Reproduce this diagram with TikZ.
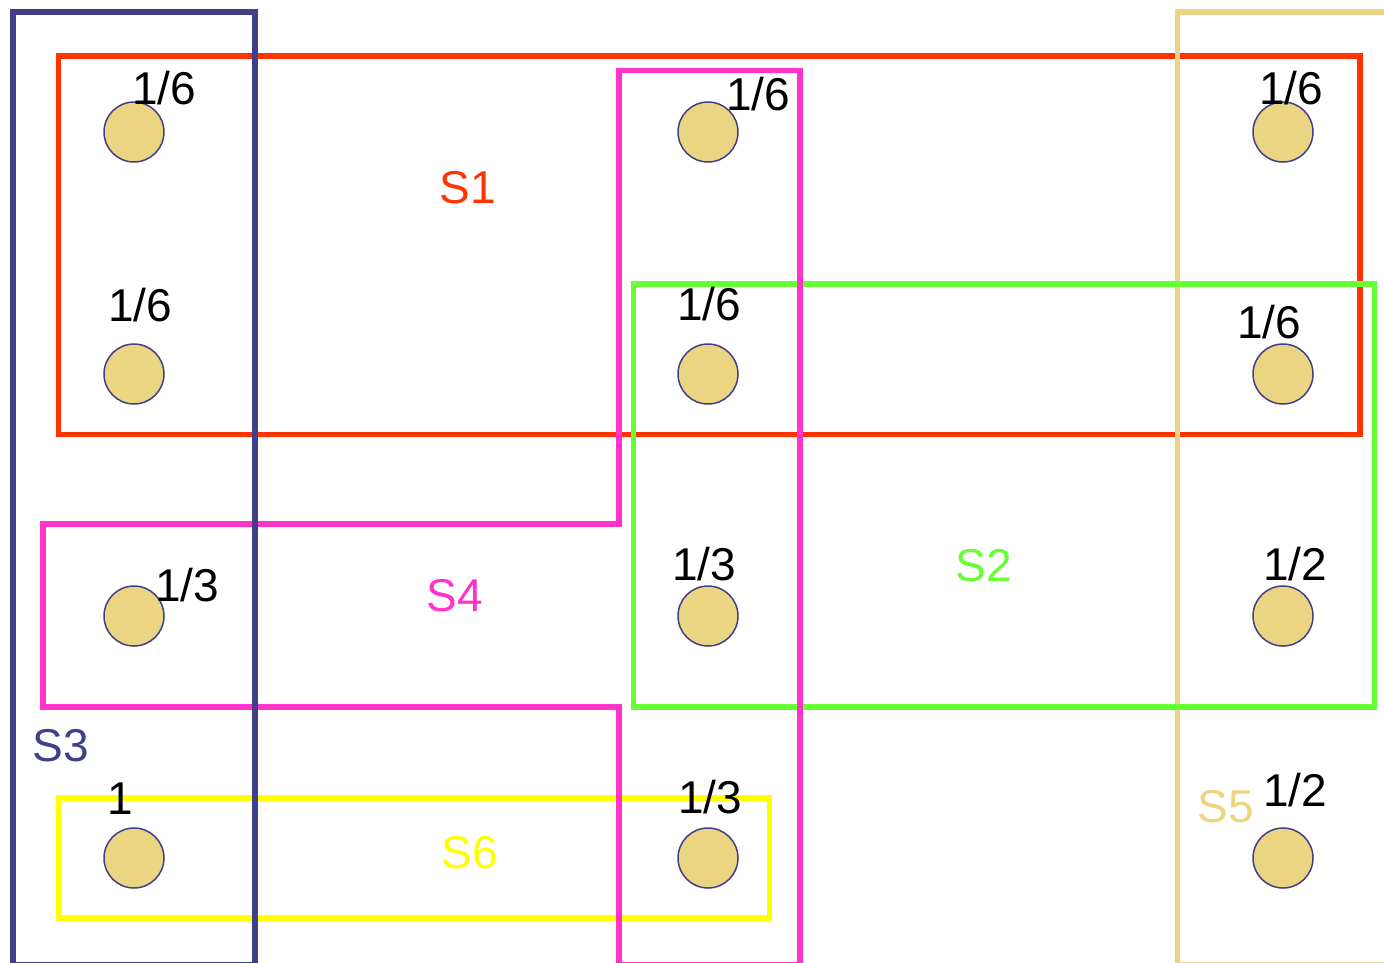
\documentclass[tikz,border=0pt]{standalone}
\usepackage{fontspec}
\setmainfont{Liberation Sans}

\definecolor{setred}{HTML}{FF3300}
\definecolor{setgreen}{HTML}{66FF33}
\definecolor{setpink}{HTML}{FF33CC}
\definecolor{setyellow}{HTML}{FFFF00}
\definecolor{setnavy}{HTML}{40408A}
\definecolor{setsand}{HTML}{EBD582}

\begin{document}
\begin{tikzpicture}[x=1pt,y=-1pt]
\tikzset{elem/.style={circle, draw=setnavy, fill=setsand, line width=1.5pt, minimum size=60pt, inner sep=0pt},
  weight/.style={anchor=base, font=\fontsize{46}{54}\selectfont},
  setname/.style={anchor=base, font=\fontsize{46}{54}\selectfont},
  setbox/.style={line width=5.5pt}}
\clip (0,0) rectangle (1384,962);
\fill[white] (0,0) rectangle (1384,962);

% the sets, back to front
\draw[setbox, setred] (58.5,56) rectangle (1360,434.5);
\draw[setbox, setsand] (1177.5,12) rectangle (1400,965);
\draw[setbox, setgreen] (633.5,284) rectangle (1374.5,707);
\draw[setbox, setyellow] (58.5,798) rectangle (769.5,918);
\draw[setbox, setpink] (619,70.5) -- (800,70.5) -- (800,965) -- (619,965) -- (619,707) -- (43,707) -- (43,524) -- (619,524) -- cycle;
\draw[setbox, setnavy] (13,12) rectangle (255,965);

% elements
\node[elem] (e11) at (134,132) {};
\node[elem] (e12) at (708,132) {};
\node[elem] (e13) at (1283,132) {};
\node[elem] (e21) at (134,374) {};
\node[elem] (e22) at (708,374) {};
\node[elem] (e23) at (1283,374) {};
\node[elem] (e31) at (134,616) {};
\node[elem] (e32) at (708,616) {};
\node[elem] (e33) at (1283,616) {};
\node[elem] (e41) at (134,858) {};
\node[elem] (e42) at (708,858) {};
\node[elem] (e43) at (1283,858) {};

% weights
\node[weight] (w11) at (164,104) {1/6};
\node[weight] (w12) at (758,110) {1/6};
\node[weight] (w13) at (1291,104) {1/6};
\node[weight] (w21) at (140,321) {1/6};
\node[weight] (w22) at (709,320) {1/6};
\node[weight] (w23) at (1269,338) {1/6};
\node[weight] (w31) at (187,601) {1/3};
\node[weight] (w32) at (704,580) {1/3};
\node[weight] (w33) at (1295,580) {1/2};
\node[weight] (w41) at (120,814) {1};
\node[weight] (w42) at (710,813) {1/3};
\node[weight] (w43) at (1295,806) {1/2};

% set names
\node[setname, text=setred] (s1) at (468,203) {S1};
\node[setname, text=setgreen] (s2) at (984,581) {S2};
\node[setname, text=setnavy] (s3) at (61,761) {S3};
\node[setname, text=setpink] (s4) at (455,611) {S4};
\node[setname, text=setsand] (s5) at (1226,822) {S5};
\node[setname, text=setyellow] (s6) at (470,868) {S6};
\end{tikzpicture}
\end{document}
